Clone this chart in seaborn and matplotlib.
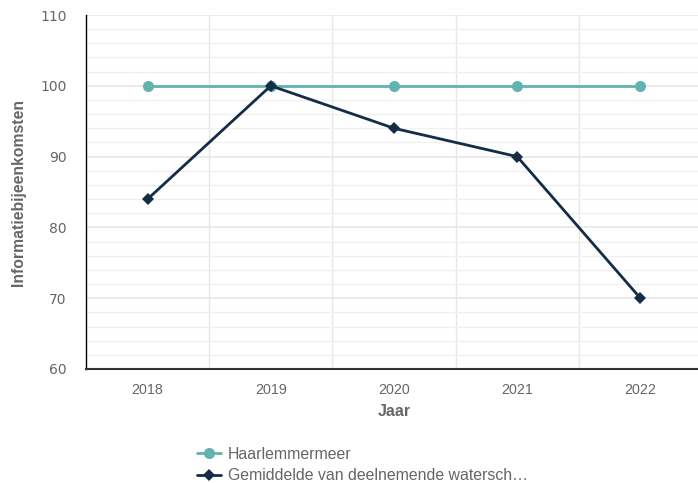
import pandas as pd
import numpy as np
import matplotlib
matplotlib.use('Agg')
import matplotlib.pyplot as plt
import seaborn as sns
from matplotlib.ticker import MultipleLocator

# --- Data ---
YEARS = ['2018', '2019', '2020', '2021', '2022']
HAARLEMMERMEER = [100, 100, 100, 100, 100]
GEMIDDELDE = [84, 100, 94, 90, 70]
SERIES_NAMES = ['Haarlemmermeer', 'Gemiddelde van deelnemende watersch\u2026']

TEAL = '#62b3b0'
NAVY = '#152c47'
GREY_TEXT = '#666666'

df = pd.DataFrame({
    'Jaar': YEARS * 2,
    'waarde': HAARLEMMERMEER + GEMIDDELDE,
    'reeks': [SERIES_NAMES[0]] * len(YEARS) + [SERIES_NAMES[1]] * len(YEARS),
})

sns.set_style('white')
plt.rcParams['font.family'] = ['Liberation Sans', 'DejaVu Sans']

fig = plt.figure(figsize=(6.98, 4.83), dpi=100)
# plot area runs a little past the right edge of the figure, as in the original
ax = fig.add_axes([86 / 698, 1 - 369 / 483, (702 - 86) / 698, (369 - 15) / 483])

sns.lineplot(data=df, x='Jaar', y='waarde', hue='reeks', style='reeks',
             markers={SERIES_NAMES[0]: 'o', SERIES_NAMES[1]: 'D'},
             dashes=False, palette={SERIES_NAMES[0]: TEAL, SERIES_NAMES[1]: NAVY},
             linewidth=2, ax=ax, legend=False)
for line, ms in zip(ax.lines, [8, 6]):
    line.set_markersize(ms)
    line.set_markeredgewidth(0)

ax.set_xlim(-0.5, len(YEARS) - 0.5)
ax.set_ylim(60, 110)
yticks = np.arange(60, 111, 10)
ax.set_yticks(yticks)
ax.set_yticklabels([str(v) for v in yticks], fontfamily='DejaVu Sans')
ax.yaxis.set_minor_locator(MultipleLocator(2))
ax.set_xticks(range(len(YEARS)))
ax.set_xticklabels(YEARS)
ax.set_xticks(np.arange(0.5, len(YEARS) - 0.5, 1), minor=True)

ax.grid(which='major', axis='y', color='#e6e6e6', linewidth=1.2)
ax.grid(which='minor', axis='y', color='#f0f0f0', linewidth=1)
ax.grid(which='minor', axis='x', color='#e6e6e6', linewidth=1)
ax.set_axisbelow(True)

for side in ['top', 'right']:
    ax.spines[side].set_visible(False)
ax.spines['left'].set_color('#000000')
ax.spines['left'].set_linewidth(1)
ax.spines['bottom'].set_color('#333333')
ax.spines['bottom'].set_linewidth(1.5)

ax.tick_params(axis='y', which='major', length=10, width=1, color='#000000',
               labelsize=10, labelcolor=GREY_TEXT, pad=4)
ax.tick_params(axis='y', which='minor', length=0)
ax.tick_params(axis='x', which='both', length=0, labelsize=10.3,
               labelcolor=GREY_TEXT, pad=10)

ax.set_xlabel('Jaar', fontsize=11.5, fontweight='bold', color=GREY_TEXT, labelpad=5)
ax.set_ylabel('Informatiebijeenkomsten', fontsize=11.3, fontweight='bold',
              color=GREY_TEXT, labelpad=10)

handles = [
    plt.Line2D([], [], color=TEAL, marker='o', markersize=8, markeredgewidth=0, linewidth=2),
    plt.Line2D([], [], color=NAVY, marker='D', markersize=6, markeredgewidth=0, linewidth=2),
]
fig.legend(handles, SERIES_NAMES, loc='center left',
           bbox_to_anchor=(189 / 698, 1 - 465 / 483), frameon=False,
           fontsize=11.4, labelcolor=GREY_TEXT, handlelength=1.5,
           handletextpad=0.45, labelspacing=0.4, borderpad=0)

fig.savefig('out.png', dpi=100)
